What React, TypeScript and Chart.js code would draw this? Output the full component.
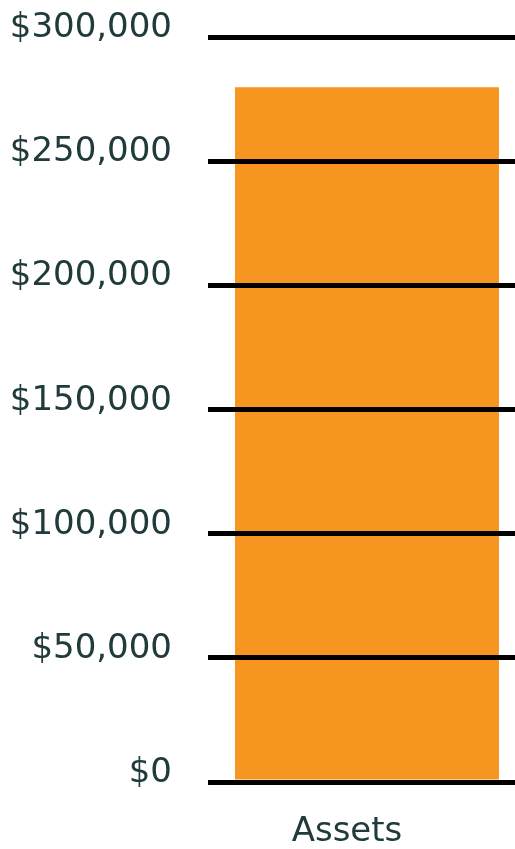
import React, { useEffect, useRef } from "react";
import { Chart, registerables } from "chart.js";

Chart.register(...registerables);

const categories = ["Assets"];
const assetValues = [280000];
const yMin = 0;
const yMax = 300000;
const yStep = 50000;

const barColor = "#f6951f";
const textColor = "#213a3b";
const fontFamily = "'DejaVu Sans', sans-serif";

export default function App() {
  const canvasRef = useRef<HTMLCanvasElement | null>(null);

  useEffect(() => {
    const canvas = canvasRef.current;
    if (!canvas) return;
    const chart = new Chart(canvas, {
      type: "bar",
      data: {
        labels: categories,
        datasets: [
          {
            label: "Assets",
            data: assetValues,
            backgroundColor: barColor,
            borderWidth: 0,
            barPercentage: 1,
            categoryPercentage: 0.83,
          },
        ],
      },
      options: {
        animation: false,
        responsive: true,
        maintainAspectRatio: false,
        layout: { padding: { top: 37.5, left: 0, right: 0, bottom: 0 } },
        plugins: {
          legend: { display: false },
          tooltip: { enabled: false },
        },
        scales: {
          x: {
            grid: { display: false, drawTicks: false },
            border: { display: false },
            ticks: {
              color: textColor,
              font: { family: fontFamily, size: 34 },
              padding: 30,
              labelOffset: -20,
            },
            afterFit: (scale: any) => {
              scale.height = 67;
            },
          },
          y: {
            min: yMin,
            max: yMax,
            grid: {
              color: "#000000",
              lineWidth: 5,
              drawTicks: true,
              tickLength: 36,
              tickColor: "rgba(0,0,0,0)",
              z: 1,
            },
            border: { display: false },
            ticks: {
              stepSize: yStep,
              color: textColor,
              font: { family: fontFamily, size: 34 },
              padding: 0,
              labelOffset: -9,
              callback: (v: any) => "$" + Number(v).toLocaleString("en-US"),
            },
            afterFit: (scale: any) => {
              scale.width = 208;
            },
          },
        },
      },
    });
    return () => chart.destroy();
  }, []);

  return (
    <div
      style={{
        position: "absolute",
        left: 0,
        top: 0,
        width: 515,
        height: 849,
        overflow: "hidden",
        background: "#ffffff",
      }}
    >
      <div style={{ position: "relative", width: 526, height: 849 }}>
        <canvas ref={canvasRef} />
      </div>
    </div>
  );
}
